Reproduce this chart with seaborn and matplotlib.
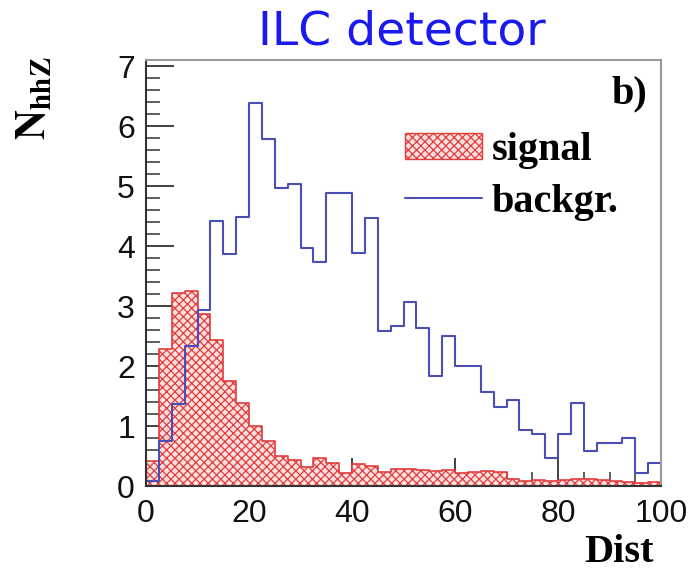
import numpy as np
import pandas as pd
import matplotlib
matplotlib.use("Agg")
import matplotlib.pyplot as plt
from matplotlib.patches import Patch
from matplotlib.lines import Line2D
from matplotlib.ticker import MultipleLocator
import seaborn as sns

# Histogram binning: 40 bins of width 2.5 over Dist in [0, 100]
bin_width = 2.5
bin_centers = np.arange(40) * bin_width + bin_width / 2

signal_counts = [
    0.42, 2.28, 3.22, 3.25, 2.86, 2.44, 1.75, 1.39, 1.00, 0.75,
    0.50, 0.44, 0.31, 0.46, 0.39, 0.22, 0.36, 0.33, 0.24, 0.28,
    0.28, 0.27, 0.25, 0.27, 0.22, 0.24, 0.25, 0.24, 0.12, 0.08,
    0.10, 0.08, 0.10, 0.12, 0.12, 0.10, 0.08, 0.06, 0.05, 0.06,
]
background_counts = [
    0.08, 0.75, 1.36, 2.33, 2.94, 4.42, 3.87, 4.49, 6.39, 5.78,
    4.97, 5.04, 3.97, 3.73, 4.89, 4.89, 3.89, 4.47, 2.58, 2.67,
    3.06, 2.64, 1.83, 2.50, 2.00, 2.00, 1.56, 1.31, 1.44, 0.94,
    0.86, 0.47, 0.86, 1.39, 0.58, 0.72, 0.72, 0.80, 0.22, 0.39,
]

df = pd.DataFrame({
    "Dist": bin_centers,
    "signal": signal_counts,
    "backgr": background_counts,
})

sns.set_style("ticks")
plt.rcParams["mathtext.fontset"] = "stix"
plt.rcParams["hatch.linewidth"] = 0.9
plt.rcParams["hatch.color"] = "#e23b3b"
plt.rcParams["text.color"] = "black"
plt.rcParams["xtick.labelcolor"] = "#111111"
plt.rcParams["ytick.labelcolor"] = "#111111"

fig = plt.figure(figsize=(6.89, 5.69), dpi=100)
ax = fig.add_axes([146 / 689, 1 - 486 / 569, (661 - 146) / 689, (486 - 60) / 569])

red = "#e23b3b"
blue = "#4a4fb5"
pink = "#fbe0e0"

sns.histplot(data=df, x="Dist", weights="signal", binwidth=bin_width,
             binrange=(0, 100), element="step", fill=True, ax=ax,
             facecolor=pink, edgecolor=red, linewidth=1.2,
             hatch="xxxx", alpha=1.0)
sns.histplot(data=df, x="Dist", weights="backgr", binwidth=bin_width,
             binrange=(0, 100), element="step", fill=False, ax=ax,
             color=blue, linewidth=1.5)

ax.set_xlim(0, 100)
ax.set_ylim(0, 7.1)
ax.set_xlabel("")
ax.set_ylabel("")

ax.xaxis.set_major_locator(MultipleLocator(20))
ax.xaxis.set_minor_locator(MultipleLocator(5))
ax.yaxis.set_major_locator(MultipleLocator(1))
ax.yaxis.set_minor_locator(MultipleLocator(0.2))
ax.tick_params(which="major", direction="in", length=20, width=1.3,
               color="#333333", labelsize=23, pad=9)
ax.tick_params(which="minor", direction="in", length=10, width=1.1,
               color="#333333")
ax.tick_params(axis="y", which="major", pad=8)
ax.tick_params(top=False, right=False, which="both")
for lab in ax.get_xticklabels() + ax.get_yticklabels():
    lab.set_fontfamily("Liberation Sans")

for side in ("left", "bottom"):
    ax.spines[side].set_color("#333333")
    ax.spines[side].set_linewidth(1.5)
for side in ("top", "right"):
    ax.spines[side].set_color("#999999")
    ax.spines[side].set_linewidth(1.5)

# Legend
handles = [
    Patch(facecolor=pink, edgecolor=red, hatch="xxxx", linewidth=1.0),
    Line2D([0], [0], color=blue, linewidth=1.5),
]
ax.legend(handles, ["signal", "backgr."], loc="upper left",
          bbox_to_anchor=(0.503, 0.83), frameon=False,
          borderpad=0, borderaxespad=0,
          prop={"family": "Liberation Serif", "weight": "bold", "size": 29},
          handlelength=1.9, handleheight=0.6, handletextpad=0.25,
          labelspacing=0.36)

ax.text(0.973, 0.965, "b)", transform=ax.transAxes, ha="right", va="top",
        fontfamily="Liberation Serif", fontweight="bold", fontsize=29)

fig.text(402 / 689, 1 - 32 / 569, "ILC detector", ha="center", va="center",
         color="#1a1aee", fontsize=34, fontfamily="DejaVu Sans")

fig.text(33 / 689, 1 - 98 / 569, r"$\mathbf{N_{hhZ}}$", rotation=90,
         ha="center", va="center", fontsize=30)

fig.text(619 / 689, 1 - 552 / 569, "Dist", ha="center", va="center",
         fontfamily="Liberation Serif", fontweight="bold", fontsize=29)

fig.savefig("out.png", dpi=100)
